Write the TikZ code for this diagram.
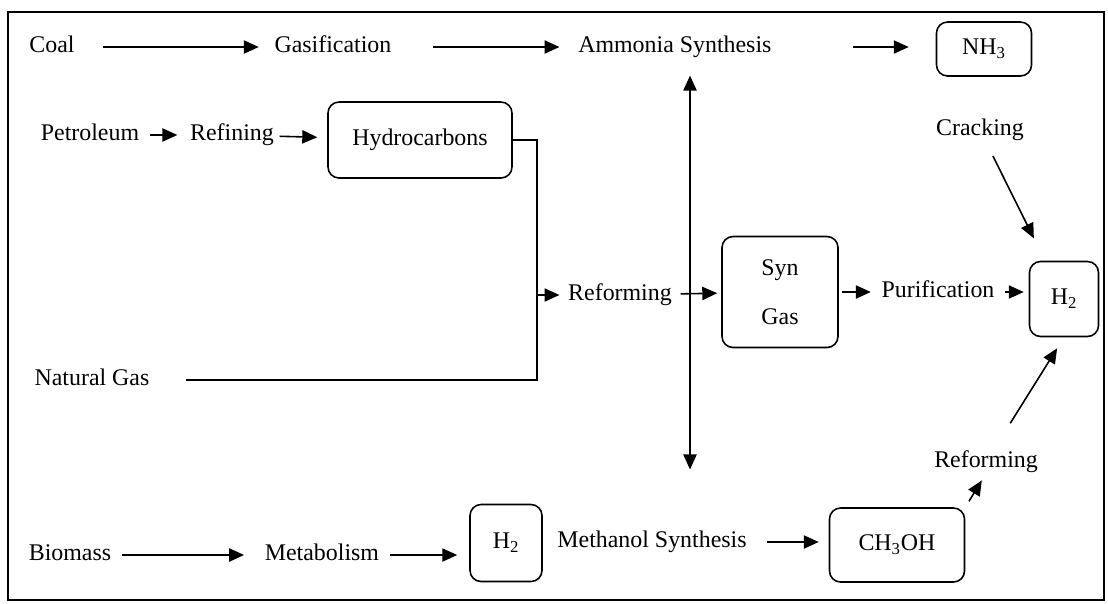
\documentclass[tikz,border=0pt]{standalone}
\usepackage{fontspec}
\setmainfont{Liberation Serif}
\usetikzlibrary{positioning, arrows.meta}
\tikzset{
    >={Triangle[length=8.5pt,width=7.5pt]}, % filled arrow heads
    node distance=5cm, % changed per node where needed
    lbl/.style={inner sep=0pt, text height=9.5pt, text depth=2.8pt, font=\fontsize{13.6}{16}\selectfont},
    box/.style={draw, rounded corners=0.22cm, inner sep=0pt, font=\fontsize{13.6}{16}\selectfont},
}

\begin{document}
\begin{tikzpicture}[x=0.02cm, y=-0.02cm, line width=0.9pt]
            \useasboundingbox (0,0) rectangle (1108,603);
            \draw (8,12) rectangle (1104,600);

            % coal route
            \node[lbl] (coal) at (52,47) {Coal};
            \node[lbl, right of=coal, node distance=5.62cm] (gasif) {Gasification};
            \node[lbl, right of=gasif, node distance=6.84cm] (ammonia) {Ammonia Synthesis};
            \node[box, minimum width=1.9cm, minimum height=1.08cm] (NH3) at (984,49) {NH\textsubscript{3}};

            % petroleum route
            \node[lbl] (petrol) at (90,135) {Petroleum};
            \node[lbl, right of=petrol, node distance=2.84cm] (refining) {Refining};
            \node[box, minimum width=3.68cm, minimum height=1.52cm] (hydro) at (420,140) {Hydrocarbons};
            \node[lbl] (natgas) at (92,380) {Natural Gas};
            \coordinate (join) at (537,295);

            \node[lbl] (reform) at (620,295) {Reforming};
            \node[box, align=center, minimum width=2.32cm, minimum height=2.22cm] (syngas) at (780,292) {Syn\\[12pt]Gas};
            \node[lbl, right of=syngas, node distance=3.16cm] (purif) {Purification};
            \node[box, minimum width=1.38cm, minimum height=1.5cm] (H2r) at (1064,299) {H\textsubscript{2}};
            \node[lbl] (crack) at (980,130) {Cracking};
            \node[lbl] (reform2) at (986,462) {Reforming};

            % biomass route
            \node[lbl] (biomass) at (70,555) {Biomass};
            \node[lbl, right of=biomass, node distance=5.04cm] (metab) {Metabolism};
            \node[box, minimum width=1.44cm, minimum height=1.54cm] (H2b) at (506,543) {H\textsubscript{2}};
            \node[lbl] (methanol) at (652,542) {Methanol Synthesis};
            \node[box, minimum width=2.7cm, minimum height=1.48cm] (CH3OH) at (897,545) {CH\textsubscript{3}OH};
            \coordinate (vline) at (690,300);

            \draw[shorten >=0.72cm] (hydro.east) -| (join) |- (natgas.east);

            \path[->]
            (coal) edge[shorten <=0.56cm, shorten >=0.3cm] (gasif)
            (gasif) edge[shorten <=0.82cm, shorten >=0.36cm] (ammonia)
            (ammonia) edge[shorten <=1.62cm, shorten >=0.54cm] (ammonia -| NH3.west)
            (petrol) edge[shorten <=0.2cm, shorten >=0.24cm] (refining)
            (refining) edge[shorten <=0.1cm, shorten >=0.2cm] (hydro)
            (join) edge[shorten >=0.16cm] (reform)
            (reform) edge[shorten <=0.16cm, shorten >=0.08cm] (syngas)
            (syngas) edge[shorten <=0.06cm, shorten >=0.2cm] (purif)
            (purif) edge[shorten <=0.2cm, shorten >=0.1cm] (purif -| H2r.west)
            (crack) edge[shorten <=0.32cm, shorten >=0.5cm] (H2r)
            (reform2) edge[shorten <=0.64cm, shorten >=0.26cm] (H2r.south)
            (CH3OH.north east) edge[shorten <=0.14cm, shorten >=0.16cm] (reform2.south)
            (ammonia.south -| vline) edge[<->, shorten <=0.34cm, shorten >=1.22cm] (methanol.north -| vline)
            (biomass) edge[shorten <=0.2cm, shorten >=0.4cm] (metab)
            (metab) edge[shorten <=0.2cm, shorten >=0.24cm] (metab -| H2b.west)
            (methanol) edge[shorten <=0.4cm, shorten >=0.2cm] (methanol -| CH3OH.west);
\end{tikzpicture}
\end{document}
